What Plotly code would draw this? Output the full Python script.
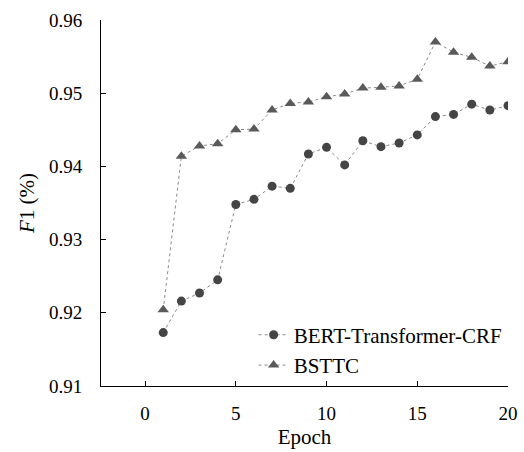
import plotly.graph_objects as go

epochs = list(range(1, 21))
bert_crf = [0.9173, 0.9216, 0.9227, 0.9245, 0.9348, 0.9355, 0.9373, 0.9370, 0.9417, 0.9426,
            0.9402, 0.9435, 0.9427, 0.9432, 0.9443, 0.9468, 0.9471, 0.9485, 0.9477, 0.9483]
bsttc = [0.9204, 0.9414, 0.9428, 0.9431, 0.9450, 0.9451, 0.9477, 0.9486, 0.9488, 0.9495,
         0.9499, 0.9507, 0.9508, 0.9510, 0.9519, 0.9570, 0.9556, 0.9549, 0.9537, 0.9543]
x_ticks = [0, 5, 10, 15, 20]
y_ticks = [0.91, 0.92, 0.93, 0.94, 0.95, 0.96]

font = "Liberation Serif"

fig = go.Figure()
fig.add_trace(go.Scatter(x=epochs, y=bert_crf, mode="lines+markers", name="BERT-Transformer-CRF",
                         line=dict(color="#8a8a8a", width=1, dash="dot"),
                         marker=dict(symbol="circle", size=9, color="#454545")))
fig.add_trace(go.Scatter(x=epochs, y=bsttc, mode="lines+markers", name="BSTTC",
                         line=dict(color="#8a8a8a", width=1, dash="dot"),
                         marker=dict(symbol="triangle-up", size=10, color="#5a5a5a")))

axis_common = dict(showline=True, linecolor="black", linewidth=1, ticks="inside", ticklen=5,
                   tickcolor="black", tickwidth=1, showgrid=False, zeroline=False,
                   tickfont=dict(family=font, size=19, color="black"))

fig.update_layout(
    width=524, height=452,
    margin=dict(l=101, r=16, t=20, b=66, autoexpand=False),
    paper_bgcolor="white", plot_bgcolor="white",
    font=dict(family=font, size=20, color="black"),
    xaxis=dict(range=[-2.43, 20], tickvals=x_ticks, ticklabelstandoff=10,
               title=dict(text="Epoch", font=dict(family=font, size=21), standoff=6), **axis_common),
    yaxis=dict(range=[0.91, 0.96], tickvals=y_ticks, tickformat=".2f", ticklabelstandoff=14,
               title=dict(text="<i>F</i>1 (%)", font=dict(family=font, size=21), standoff=8), **axis_common),
    legend=dict(x=0.375, y=0.195, xanchor="left", yanchor="top", bgcolor="rgba(0,0,0,0)",
                font=dict(family=font, size=21), tracegroupgap=0, itemwidth=30),
    showlegend=True,
)

fig.write_html("out.html", config={"displayModeBar": False},
               post_script="document.body.style.margin='0';document.body.style.overflow='hidden';")
